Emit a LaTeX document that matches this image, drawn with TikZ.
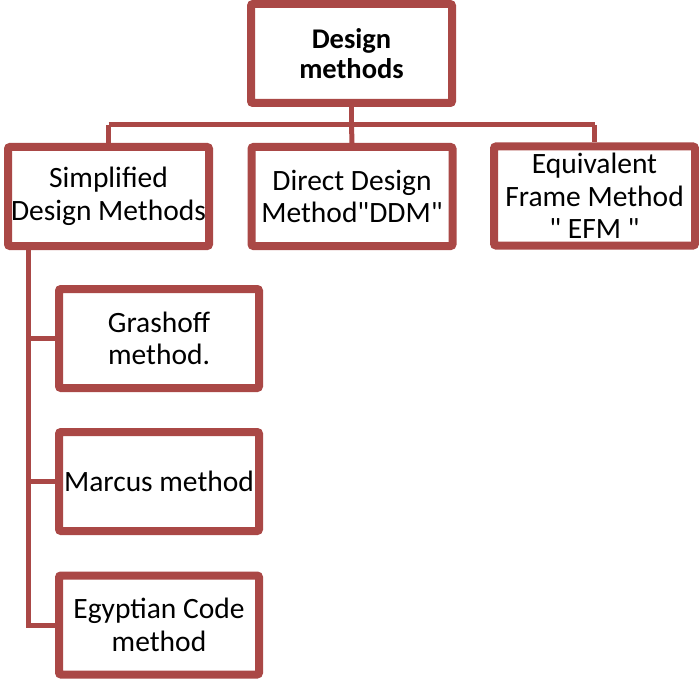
\documentclass[tikz,border=0pt]{standalone}
\usepackage{fontspec}
\setmainfont{Carlito}[Ligatures=TeXOff]
\usetikzlibrary{shadows,calc}
\definecolor{boxred}{RGB}{170,72,70}
\tikzset{
  methodbox/.style={draw=boxred, line width=8pt, fill=white, rounded corners=2pt,
    minimum width=201pt, minimum height=99pt, inner sep=1pt, align=center,
    font=\fontsize{29.5}{32.5}\selectfont,
    drop shadow={opacity=0.25, shadow xshift=2pt, shadow yshift=-3pt}},
  link/.style={draw=boxred, line width=5pt}
}
\begin{document}
\begin{tikzpicture}[x=1pt, y=-1pt]
\useasboundingbox (0,0) rectangle (699,682);
% root and first level
\node[methodbox, font=\fontsize{28.5}{30}\selectfont\bfseries] (root) at (351.5,53.5) {Design\\methods};
\node[methodbox] (simp) at (108.5,196.5) {Simplified\\Design Methods};
\node[methodbox] (ddm) at (352,196.5) {Direct Design\\Method"DDM"};
\node[methodbox] (efm) at (594.5,196) {Equivalent\\Frame Method\\" EFM "};
% second level under the simplified methods
\node[methodbox, minimum width=200pt] (gras) at (159,338.5) {Grashoff\\method.};
\node[methodbox, minimum width=200pt] (marc) at (159,481.5) {Marcus method};
\node[methodbox, minimum width=200pt] (egyp) at (159,625) {Egyptian Code\\method};
% bus coordinates
\coordinate (busmid) at (root.south |- 0,125);
\coordinate (busl) at (simp.north |- busmid);
\coordinate (busr) at (efm.north |- busmid);
\coordinate (trunktop) at (28,250);
\coordinate (trunkbot) at (28,625);
% connectors
\draw[link] (root.south) -- (busmid);
\draw[link] (busl) -- (busr);
\draw[link] (busl) -- (simp.north);
\draw[link] (busmid) -- (ddm.north);
\draw[link] (busr) -- (efm.north);
\draw[link] (trunktop) -- (trunkbot) -- (egyp.west);
\draw[link] (gras.west) -- (gras.west -| trunktop);
\draw[link] (marc.west) -- (marc.west -| trunktop);
\end{tikzpicture}
\end{document}
